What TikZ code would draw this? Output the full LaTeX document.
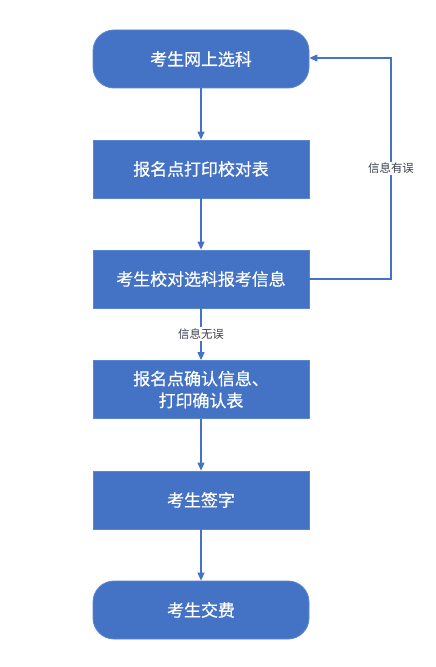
\documentclass[tikz,border=0pt]{standalone}
\usepackage{fontspec}
\newfontfamily\cjk{Noto Sans CJK SC}[FakeBold=0.6]
\newfontfamily\cjklbl{Noto Sans CJK SC}
\usetikzlibrary{arrows.meta}
\definecolor{boxblue}{HTML}{4472C4}
\definecolor{edgeblue}{HTML}{5B86D0}
\definecolor{labelgray}{HTML}{3A3F4A}
\tikzset{
  x=1bp, y=-1bp,
  procbox/.style={rectangle, fill=boxblue, draw=edgeblue, line width=0.8bp, minimum width=216bp, minimum height=58bp, text=white, font=\cjk\fontsize{17}{22}\selectfont, align=center, inner sep=0pt},
  termbox/.style={procbox, rounded corners=21bp},
  conn/.style={draw=boxblue, line width=1.1bp, -{Triangle[length=8bp,width=7bp]}},
  lbl/.style={fill=white, text=labelgray, font=\cjklbl\fontsize{11.5}{13}\selectfont, inner sep=1.5bp}
}
\begin{document}
\begin{tikzpicture}
\useasboundingbox[fill=white] (0,0) rectangle (436,667);
\node[termbox] (b1) at (201,59) {考生网上选科};
\node[procbox] (b2) at (201,169) {报名点打印校对表};
\node[procbox] (b3) at (201,279) {考生校对选科报考信息};
\node[procbox] (b4) at (201,389.5) {报名点确认信息、\\打印确认表};
\node[procbox] (b5) at (201,500) {考生签字};
\node[termbox] (b6) at (201,610) {考生交费};
\coordinate (c1) at (391,279);
\coordinate (c2) at (391,58);
\draw[conn] (b1) -- (b2);
\draw[conn] (b2) -- (b3);
\draw[conn] (b3) -- node[lbl, pos=0.5] {信息无误} (b4);
\draw[conn] (b4) -- (b5);
\draw[conn] (b5) -- (b6);
\draw[conn] (b3.east) -- (c1) -- node[lbl] {信息有误} (c2) -- (b1.east |- c2);
\end{tikzpicture}
\end{document}
